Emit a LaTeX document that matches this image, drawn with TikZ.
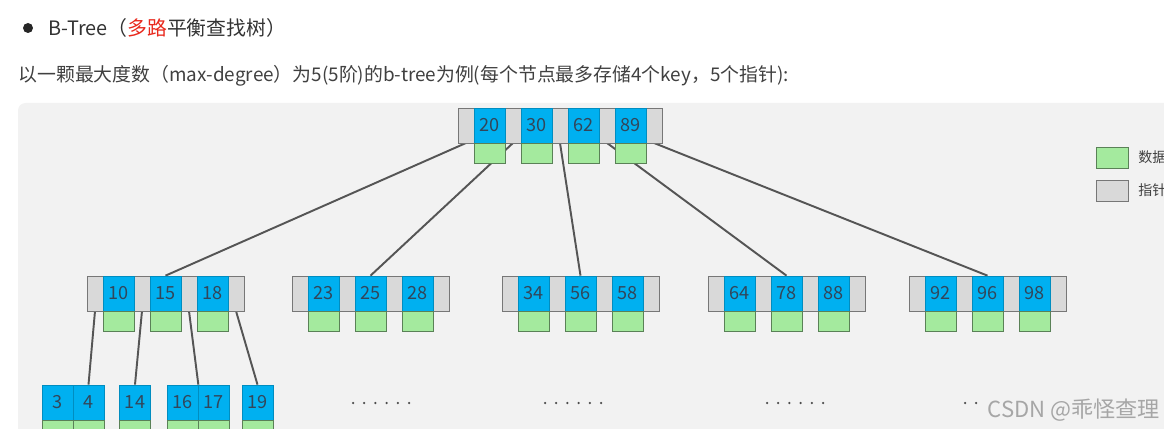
\documentclass[tikz,border=0pt]{standalone}
\usepackage{fontspec}
\newfontfamily\cjk{Noto Sans CJK SC}
\usetikzlibrary{positioning}
\pgfdeclarelayer{panel}
\pgfdeclarelayer{edges}
\pgfsetlayers{panel,edges,main}
\definecolor{keyblue}{RGB}{0,176,240}
\definecolor{datgreen}{RGB}{164,234,158}
\definecolor{ptrgray}{RGB}{217,217,217}
\definecolor{panelgray}{RGB}{242,242,242}
\definecolor{edgegray}{RGB}{85,85,85}
\definecolor{numcol}{RGB}{50,70,90}
\definecolor{hotred}{RGB}{232,40,28}
\tikzset{
    ptrcell/.style={draw=ptrgray!55!black, fill=ptrgray, line width=0.5pt, minimum height=0.7cm, inner sep=0pt, anchor=north west},
    keycell/.style={draw=keyblue!80!black, fill=keyblue, line width=0.4pt, minimum width=0.62cm, minimum height=0.7cm, inner sep=0pt, text=numcol, font=\cjk\fontsize{10.3}{10}\selectfont},
    datcell/.style={draw=datgreen!55!black, fill=datgreen, line width=0.4pt, minimum width=0.62cm, minimum height=0.4cm, inner sep=0pt},
    legbox/.style={line width=0.5pt, minimum width=0.64cm, minimum height=0.42cm, inner sep=0pt},
    link/.style={draw=edgegray, line width=1.1pt},
}
\begin{document}
\begin{tikzpicture}[x=0.02cm, y=-0.02cm]
            \useasboundingbox (0,0) rectangle (1164,429);
            \begin{pgfonlayer}{panel}
                \fill[panelgray, rounded corners=0.15cm] (18,103) rectangle (1190,450);
            \end{pgfonlayer}

            % heading
            \fill[black!85] (28,28) circle (0.1cm);
            \node[anchor=west, inner sep=0pt, text=black!80, font=\cjk\fontsize{11.3}{13}\selectfont] (title) at (48,28) {B-Tree（\textcolor{hotred}{多路}平衡查找树）};
            \node[anchor=west, inner sep=0pt, text=black!75, font=\cjk\fontsize{10.75}{12}\selectfont] (intro) at (18,76) {以一颗最大度数（max-degree）为5(5阶)的b-tree为例(每个节点最多存储4个key，5个指针):};

            % root
            \node[ptrcell, minimum width=4.08cm] (root) at (458,108) {};
            \foreach \k [count=\i] in {20,30,62,89} {
                \node[keycell] (k\k) at (442.5+47*\i,125.5) {\k};
                \node[datcell, below=0pt of k\k] (d\k) {};
            }
            \foreach \j in {0,...,4}
                \coordinate (rp\j) at (466+47*\j,143);

            % second level
            \foreach \lx/\keys [count=\n] in {87/{10,15,18}, 292/{23,25,28}, 502/{34,56,58}, 708/{64,78,88}, 909/{92,96,98}} {
                \node[ptrcell, minimum width=3.14cm] (n\n) at (\lx,276) {};
                \foreach \k [count=\i] in \keys {
                    \node[keycell] (k\k) at (\lx-15.5+47*\i,293.5) {\k};
                    \node[datcell, below=0pt of k\k] (d\k) {};
                }
            }
            \foreach \j in {0,...,3}
                \coordinate (np\j) at (95+47*\j,311);

            % leaves
            \foreach \x/\k in {57.5/3, 88.5/4, 135/14, 182.5/16, 213.5/17, 257.5/19} {
                \node[keycell] (l\k) at (\x,402.5) {\k};
                \node[datcell, below=0pt of l\k] (dl\k) {};
            }

            \begin{pgfonlayer}{edges}
                \draw[link] (rp0) -- (k15.north);
                \draw[link] (rp1) -- (k25.north);
                \draw[link] (rp2) -- (k56.north);
                \draw[link] (rp3) -- (k78.north);
                \draw[link] (rp4) -- (k96.north);
                \draw[link] (np0) -- (l4.north);
                \draw[link] (np1) -- (l14.north);
                \draw[link] (np2) -- (l16.north east);
                \draw[link] (np3) -- (l19.north);
            \end{pgfonlayer}

            % more nodes below
            \foreach \s in {353,545,767,965}
                \foreach \k in {0,...,5}
                    \fill[black!70] (\s+11.2*\k,403) circle (0.025cm);

            % legend
            \node[legbox, draw=datgreen!55!black, fill=datgreen] (legdat) at (1112,157.5) {};
            \node[anchor=west, inner sep=0pt, text=black!75, font=\cjk\fontsize{8}{9}\selectfont] (legdattxt) at (1138,157.5) {数据};
            \node[legbox, draw=ptrgray!55!black, fill=ptrgray] (legptr) at (1112,190.5) {};
            \node[anchor=west, inner sep=0pt, text=black!75, font=\cjk\fontsize{8}{9}\selectfont] (legptrtxt) at (1138,190.5) {指针};

            \node[anchor=east, fill=panelgray, inner sep=1pt, text=black!35, font=\cjk\fontsize{12.6}{13}\selectfont] (mark) at (1162,410) {CSDN @乖怪查理};
\end{tikzpicture}
\end{document}
